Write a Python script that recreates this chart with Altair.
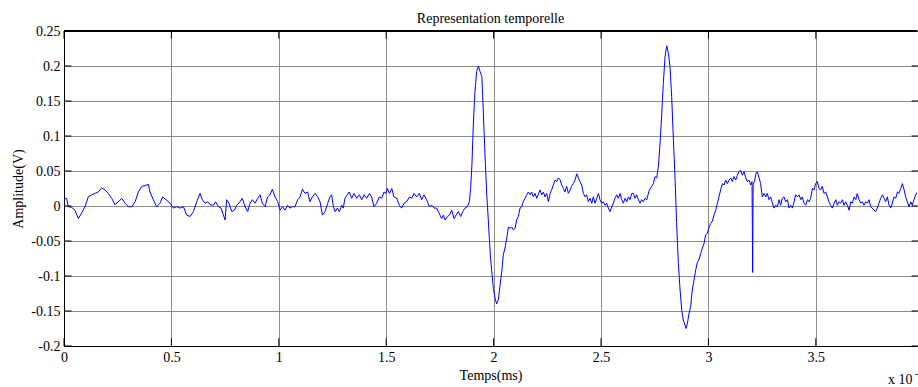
import altair as alt
import pandas as pd

# ---------------- data ----------------
title_text = "Representation temporelle"
x_title = "Temps(ms)"
y_title = "Amplitude(V)"
x_ticks = [0, 0.5, 1, 1.5, 2, 2.5, 3, 3.5]
y_ticks = [-0.2, -0.15, -0.1, -0.05, 0, 0.05, 0.1, 0.15, 0.2, 0.25]
x_max = 3.971
y_min, y_max = -0.2, 0.25
multiplier_text = "x 10"
multiplier_exp = "-3"

time = [
    0.000, 0.012, 0.020, 0.036, 0.051, 0.067, 0.082, 0.098, 0.113, 0.129,
    0.144, 0.160, 0.175, 0.191, 0.206, 0.222, 0.237, 0.253, 0.269, 0.284,
    0.300, 0.315, 0.331, 0.346, 0.362, 0.377, 0.393, 0.400, 0.416, 0.431,
    0.447, 0.459, 0.475, 0.494, 0.509, 0.525, 0.540, 0.556, 0.571, 0.587,
    0.602, 0.618,
    0.633, 0.644, 0.656, 0.669, 0.680, 0.695, 0.706, 0.719, 0.731, 0.742,
    0.750, 0.757, 0.768, 0.781, 0.793, 0.804, 0.819, 0.830, 0.843, 0.855,
    0.866, 0.877, 0.889, 0.902, 0.913, 0.923, 0.936, 0.948, 0.959, 0.970,
    0.982, 0.995, 1.006, 1.017, 1.029, 1.041, 1.052, 1.063, 1.075, 1.088,
    1.099, 1.110, 1.122, 1.134, 1.145, 1.156, 1.169, 1.181, 1.192, 1.203,
    1.215, 1.228, 1.238,
    1.246, 1.254, 1.262, 1.273, 1.282, 1.293, 1.300, 1.308, 1.319, 1.328,
    1.339, 1.350, 1.363, 1.375, 1.386, 1.397, 1.409, 1.422, 1.432, 1.443,
    1.456, 1.468, 1.479, 1.490, 1.499, 1.505, 1.515, 1.526, 1.536, 1.549,
    1.561, 1.572, 1.583, 1.595, 1.608, 1.619, 1.629, 1.642, 1.654, 1.665,
    1.676, 1.688, 1.701, 1.712, 1.723, 1.735,
    1.758, 1.766, 1.774, 1.785, 1.794, 1.805, 1.816, 1.825, 1.836, 1.847,
    1.856, 1.867, 1.878, 1.887, 1.893, 1.899, 1.906, 1.913, 1.921, 1.929,
    1.937, 1.945, 1.949, 1.955, 1.962, 1.968, 1.974, 1.980, 1.986, 1.993,
    1.999, 2.007, 2.014, 2.022, 2.030, 2.038, 2.045, 2.053, 2.061, 2.069,
    2.076, 2.084, 2.092, 2.100, 2.107, 2.115, 2.123, 2.131, 2.138, 2.146,
    2.154, 2.162, 2.170, 2.177, 2.185, 2.193, 2.201, 2.208, 2.216, 2.224,
    2.232, 2.239, 2.247, 2.255, 2.263, 2.270, 2.278, 2.286, 2.294, 2.301,
    2.309, 2.317, 2.325, 2.332, 2.340, 2.348, 2.356, 2.363, 2.371, 2.379,
    2.387, 2.395, 2.402, 2.410, 2.418, 2.426, 2.433, 2.441, 2.449, 2.457,
    2.464, 2.472, 2.480, 2.488, 2.495, 2.503, 2.511, 2.519, 2.526, 2.534,
    2.542, 2.550, 2.557, 2.565, 2.573, 2.581, 2.589, 2.596, 2.604, 2.612,
    2.620, 2.627, 2.635, 2.643, 2.651, 2.658, 2.666, 2.674, 2.682, 2.689,
    2.697, 2.705, 2.713, 2.725,
    2.736, 2.744, 2.751, 2.759, 2.767, 2.775, 2.782, 2.790, 2.798, 2.806,
    2.814, 2.821, 2.829, 2.837, 2.845, 2.852, 2.860, 2.868, 2.876, 2.883,
    2.891, 2.896, 2.902, 2.910, 2.917, 2.925, 2.933, 2.941, 2.949, 2.956,
    2.964, 2.972, 2.980, 2.987, 2.995, 3.003, 3.011, 3.018, 3.026, 3.034,
    3.042, 3.049, 3.057, 3.065, 3.073, 3.080, 3.088, 3.096, 3.104, 3.111,
    3.119, 3.127, 3.135, 3.142, 3.150, 3.158, 3.166, 3.174, 3.181, 3.189,
    3.197, 3.203, 3.206, 3.208, 3.214, 3.222, 3.228, 3.236, 3.243, 3.251,
    3.259, 3.267, 3.274, 3.282, 3.290, 3.298, 3.305, 3.313, 3.321, 3.329,
    3.336, 3.344, 3.352, 3.360, 3.368, 3.375, 3.383, 3.391, 3.399, 3.406,
    3.414, 3.422, 3.430, 3.437, 3.445, 3.453, 3.461, 3.468, 3.476, 3.484,
    3.492, 3.499, 3.507, 3.515, 3.523, 3.530, 3.538, 3.546, 3.554, 3.561,
    3.569, 3.577, 3.585, 3.593, 3.600, 3.608, 3.616, 3.624, 3.631, 3.639,
    3.647, 3.655, 3.662, 3.670, 3.678, 3.686, 3.693, 3.701, 3.709, 3.717,
    3.724, 3.732, 3.740, 3.748, 3.755, 3.763, 3.771, 3.779, 3.786, 3.794,
    3.802, 3.810, 3.818, 3.825, 3.833, 3.841, 3.849, 3.856, 3.864, 3.872,
    3.880, 3.887, 3.895, 3.903, 3.911, 3.918, 3.926, 3.934, 3.942, 3.949,
    3.957, 3.965, 3.973,
]

amplitude = [
    0.011, 0.011, -0.001, -0.002, -0.006, -0.018, -0.010, -0.001, 0.013, 0.016,
    0.018, 0.020, 0.026, 0.023, 0.018, 0.011, 0.002, 0.006, 0.011, 0.004,
    -0.001, -0.001, 0.006, 0.020, 0.028, 0.029, 0.031, 0.020, 0.009, -0.001,
    0.004, 0.013, 0.009, 0.004, -0.003, -0.001, -0.003, -0.001, -0.013, -0.015,
    -0.008, 0.006,
    0.018, 0.009, 0.004, 0.006, 0.002, 0.001, 0.006, -0.001, -0.003, -0.013,
    -0.020, 0.009, 0.004, -0.008, -0.006, 0.001, 0.006, 0.011, -0.001, -0.008,
    0.004, 0.009, 0.004, 0.011, 0.016, 0.004, -0.001, 0.013, 0.016, 0.024,
    0.013, 0.006, -0.006, -0.001, -0.006, 0.001, -0.003, -0.001, -0.001, 0.009,
    0.013, 0.024, 0.018, 0.020, 0.006, 0.013, 0.018, 0.013, 0.006, -0.013,
    -0.008, 0.004, 0.013,
    0.016, -0.001, -0.008, -0.003, -0.008, 0.001, -0.003, 0.011, 0.016, 0.020,
    0.011, 0.018, 0.011, 0.016, 0.009, 0.016, 0.011, 0.018, 0.013, -0.001,
    0.004, 0.013, 0.011, 0.020, 0.018, 0.025, 0.018, 0.025, 0.013, 0.011,
    0.001, -0.003, 0.004, 0.006, 0.013, 0.011, 0.018, 0.013, 0.018, 0.009,
    0.016, 0.009, -0.001, 0.001, -0.003, -0.003,
    -0.018, -0.013, -0.020, -0.015, -0.013, -0.006, -0.018, -0.013, -0.008, -0.015,
    -0.008, -0.003, -0.001, 0.006, 0.025, 0.059, 0.120, 0.163, 0.192, 0.200,
    0.192, 0.185, 0.159, 0.111, 0.059, 0.016, -0.013, -0.046, -0.075, -0.099,
    -0.118, -0.132, -0.140, -0.134, -0.113, -0.094, -0.070, -0.060, -0.046, -0.030,
    -0.032, -0.030, -0.034, -0.032, -0.020, -0.015, -0.003, -0.001, 0.006, 0.011,
    0.016, 0.020, 0.016, 0.020, 0.013, 0.018, 0.011, 0.016, 0.023, 0.016,
    0.020, 0.013, 0.018, 0.006, 0.018, 0.023, 0.030, 0.037, 0.035, 0.040,
    0.038, 0.030, 0.025, 0.020, 0.028, 0.018, 0.023, 0.028, 0.032, 0.037,
    0.046, 0.040, 0.035, 0.030, 0.018, 0.013, 0.016, 0.006, 0.011, 0.004,
    0.013, 0.004, 0.011, 0.018, 0.009, 0.004, 0.006, 0.001, 0.004, -0.003,
    -0.008, -0.001, 0.004, 0.011, 0.016, 0.011, 0.018, 0.009, 0.004, 0.011,
    0.006, 0.013, 0.009, 0.018, 0.018, 0.011, 0.016, 0.009, 0.004, 0.009,
    0.006, 0.011, 0.009, 0.023,
    0.028, 0.032, 0.042, 0.040, 0.056, 0.090, 0.128, 0.175, 0.213, 0.229,
    0.218, 0.199, 0.156, 0.094, 0.037, -0.025, -0.082, -0.120, -0.149, -0.163,
    -0.170, -0.175, -0.168, -0.153, -0.144, -0.120, -0.106, -0.091, -0.080, -0.077,
    -0.068, -0.060, -0.053, -0.041, -0.039, -0.030, -0.025, -0.022, -0.013, -0.006,
    0.004, 0.013, 0.023, 0.032, 0.030, 0.037, 0.032, 0.037, 0.040, 0.035,
    0.042, 0.037, 0.044, 0.049, 0.051, 0.044, 0.049, 0.040, 0.035, 0.037,
    0.030, 0.035, -0.095, 0.030, 0.035, 0.047, 0.049, 0.040, 0.032, 0.013,
    0.018, 0.013, 0.018, 0.009, 0.013, 0.004, -0.003, 0.001, -0.001, 0.009,
    0.001, 0.011, 0.013, 0.006, 0.009, -0.003, 0.001, -0.003, 0.006, 0.016,
    0.013, 0.016, 0.009, 0.013, 0.004, 0.001, 0.009, 0.006, 0.011, 0.025,
    0.023, 0.032, 0.035, 0.025, 0.023, 0.028, 0.018, 0.020, 0.013, 0.006,
    0.001, -0.003, 0.004, 0.009, 0.001, 0.006, 0.004, 0.009, 0.001, 0.006,
    0.001, -0.006, 0.006, 0.004, 0.013, 0.009, 0.018, 0.009, 0.004, 0.006,
    0.001, 0.006, 0.004, 0.009, -0.001, -0.003, -0.006, -0.008, -0.003, 0.004,
    0.011, 0.016, 0.011, 0.006, 0.013, 0.001, -0.003, 0.004, 0.013, 0.011,
    0.020, 0.018, 0.025, 0.032, 0.023, 0.013, 0.006, -0.001, 0.006, 0.001,
    0.009, 0.016, 0.020,
]

# ---------------- chart ----------------
FONT = "Liberation Serif"
FS = 14
GRID = "#8c8c8c"

df = pd.DataFrame({"t": time, "v": amplitude})
df_xt = pd.DataFrame({"t": x_ticks})
df_yt = pd.DataFrame({"v": y_ticks})

xscale = alt.Scale(domain=[0, x_max], nice=False, zero=False)
yscale = alt.Scale(domain=[y_min, y_max], nice=False, zero=False)

axis_style = dict(
    labelFont=FONT, labelFontSize=FS, labelColor="black",
    titleFont=FONT, titleFontSize=FS, titleColor="black", titleFontWeight="normal",
    domain=True, domainColor="black", domainWidth=1, ticks=False,
    grid=True, gridColor=GRID, gridWidth=1, gridOpacity=1,
    labelOverlap=False, labelExpr="'' + datum.value",
)
xaxis = alt.Axis(title=x_title, values=x_ticks, labelPadding=4, titlePadding=4,
                 labelFlush=False, **axis_style)
yaxis = alt.Axis(title=y_title, values=y_ticks, labelPadding=4, titlePadding=5,
                 **axis_style)

line = alt.Chart(df).mark_line(color="#0000ff", strokeWidth=1, clip=True).encode(
    x=alt.X("t:Q", scale=xscale, axis=xaxis),
    y=alt.Y("v:Q", scale=yscale, axis=yaxis),
)

tick_style = dict(color="black", strokeWidth=1)
dx = 0.035   # inward tick length (x units)
dy = 0.011   # inward tick length (y units)

top_border = alt.Chart(df_xt).mark_rule(color="black", strokeWidth=1).encode(
    x=alt.XDatum(0, scale=xscale, axis=xaxis),
    x2=alt.X2Datum(x_max),
    y=alt.YDatum(y_max, scale=yscale, axis=yaxis),
)
bottom_ticks = alt.Chart(df_xt).mark_rule(**tick_style).encode(
    x=alt.X("t:Q", scale=xscale, axis=xaxis),
    y=alt.YDatum(y_min, scale=yscale, axis=yaxis),
    y2=alt.Y2Datum(y_min + dy),
)
top_ticks = alt.Chart(df_xt).mark_rule(**tick_style).encode(
    x=alt.X("t:Q", scale=xscale, axis=xaxis),
    y=alt.YDatum(y_max, scale=yscale, axis=yaxis),
    y2=alt.Y2Datum(y_max - dy),
)
left_ticks = alt.Chart(df_yt).mark_rule(**tick_style).encode(
    y=alt.Y("v:Q", scale=yscale, axis=yaxis),
    x=alt.XDatum(0, scale=xscale, axis=xaxis),
    x2=alt.X2Datum(dx),
)
right_ticks = alt.Chart(df_yt).mark_rule(**tick_style).encode(
    y=alt.Y("v:Q", scale=yscale, axis=yaxis),
    x=alt.XDatum(x_max + 0.01, scale=xscale, axis=xaxis),
    x2=alt.X2Datum(x_max + 0.01 - dx),
)

mult = alt.Chart(pd.DataFrame({"s": [multiplier_text]})).mark_text(
    font=FONT, fontSize=FS, color="black", align="left", baseline="alphabetic"
).encode(text="s:N", x=alt.value(824), y=alt.value(353))

mult_exp = alt.Chart(pd.DataFrame({"s": [multiplier_exp]})).mark_text(
    font=FONT, fontSize=10, color="black", align="left", baseline="alphabetic"
).encode(text="s:N", x=alt.value(851), y=alt.value(346))

chart = alt.layer(
    line, top_border, bottom_ticks, top_ticks, left_ticks, right_ticks, mult, mult_exp
).properties(
    width=853,
    height=315,
    background="white",
    title=alt.TitleParams(title_text, font=FONT, fontSize=FS, fontWeight="normal",
                          color="black", anchor="middle", offset=2, dy=4),
    padding={"left": 64, "top": 31, "right": 1, "bottom": 41},
    autosize=alt.AutoSizeParams(type="none"),
).configure_view(stroke=None)

chart.save("out.html", embed_options={"renderer": "svg", "actions": False})
